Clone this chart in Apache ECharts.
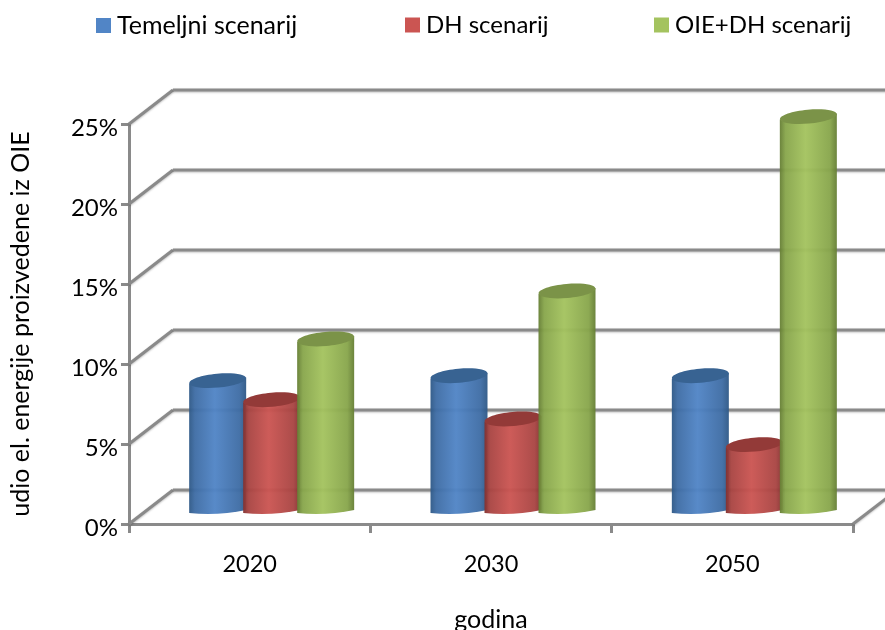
<!DOCTYPE html>
<html><head><meta charset="utf-8">
<style>html,body{margin:0;padding:0;background:#fff}#c{width:885px;height:630px}</style>
<script src="https://cdn.jsdelivr.net/npm/echarts@6/dist/echarts.min.js"></script>
</head><body><div id="c"></div>
<script>
var categories = ['2020', '2030', '2050'];
var temeljni = [7.9, 8.2, 8.2];
var dh = [6.7, 5.5, 3.9];
var oieDh = [10.5, 13.5, 24.4];
var yTicks = [0, 5, 10, 15, 20, 25];
var names = ['Temeljni scenarij', 'DH scenarij', 'OIE+DH scenarij'];

var DX = 44, DY = -34, GRAY = '#8a8a8a', FONT = 'Lato';
var chart = echarts.init(document.getElementById('c'));

function wall(params, api) {
  var cs = params.coordSys, y = api.coord([0, api.value(0)])[1];
  var x0 = cs.x, x1 = cs.x + cs.width;
  var st = {stroke: GRAY, lineWidth: 3, shadowColor: 'rgba(0,0,0,0.25)', shadowBlur: 2, shadowOffsetY: 1};
  var kids = [
    {type: 'line', shape: {x1: x0, y1: y, x2: x0 + DX, y2: y + DY}, style: st},
    {type: 'line', shape: {x1: x0 + DX, y1: y + DY, x2: x1 + DX, y2: y + DY}, style: st}
  ];
  if (api.value(0) === 0) kids.push({type: 'line', shape: {x1: x1, y1: y, x2: x1 + DX, y2: y + DY}, style: st});
  return {type: 'group', children: kids};
}

function cylinder(offset, c) {
  return function (params, api) {
    var pBase = api.coord([api.value(0), 0]), pTop = api.coord([api.value(0), api.value(1)]);
    var cx = pBase[0] + DX / 2 + offset, rx = 28.5, tilt = 3;
    var yb = pBase[1] + DY / 2, yt = pTop[1] + DY / 2;
    var d = 'M' + (cx - rx) + ' ' + (yt + tilt) +
      ' L' + (cx - rx) + ' ' + (yb + 6) +
      ' Q' + cx + ' ' + (yb + 9) + ' ' + (cx + rx) + ' ' + (yb + 3) +
      ' L' + (cx + rx) + ' ' + (yt - tilt) + ' Z';
    return {type: 'group', children: [
      {type: 'path', shape: {pathData: d},
        style: {opacity: 0.96, fill: new echarts.graphic.LinearGradient(0, 0, 1, 0, [
          {offset: 0, color: c[0]}, {offset: 0.1, color: c[1]}, {offset: 0.45, color: c[2]},
          {offset: 0.88, color: c[1]}, {offset: 1, color: c[0]}])}},
      {type: 'ellipse', x: cx, y: yt, rotation: 0.09, shape: {cx: 0, cy: 0, rx: rx, ry: 7}, style: {fill: c[3]}}
    ]};
  };
}

function seriesOf(name, values, offset, colors) {
  return {
    name: name, type: 'custom', clip: false, z: 5,
    itemStyle: {color: colors[2]},
    renderItem: cylinder(offset, colors),
    encode: {x: 0, y: 1},
    data: categories.map(function (c, i) { return [i, values[i]]; })
  };
}

function legendOf(name, left, size) {
  return {
    left: left, top: 8, itemWidth: 15, itemHeight: 15, icon: 'rect',
    data: [name], textStyle: {fontFamily: FONT, fontSize: size, color: '#000', padding: [0, 0, 0, 1]}
  };
}

chart.setOption({
  animation: false,
  backgroundColor: '#fff',
  textStyle: {fontFamily: FONT},
  legend: [legendOf(names[0], 91, 25), legendOf(names[1], 400, 24), legendOf(names[2], 649, 24)],
  grid: {left: 129, right: 32, top: 124, bottom: 106, outerBoundsMode: 'none'},
  xAxis: {
    type: 'category', data: categories, name: 'godina', nameLocation: 'middle', nameGap: 83,
    nameTextStyle: {fontFamily: FONT, fontSize: 25, color: '#000'},
    axisLine: {lineStyle: {color: GRAY, width: 3}},
    axisTick: {show: true, length: 9, lineStyle: {color: GRAY, width: 3}},
    axisLabel: {fontFamily: FONT, fontSize: 23.5, color: '#000', margin: 28}
  },
  yAxis: {
    type: 'value', min: 0, max: 25, interval: 5, name: 'udio el. energije proizvedene iz OIE',
    nameLocation: 'middle', nameGap: 96, nameRotate: 90,
    nameTextStyle: {fontFamily: FONT, fontSize: 25, color: '#000'},
    axisLine: {show: true, lineStyle: {color: GRAY, width: 3}},
    axisTick: {show: true, length: 8, lineStyle: {color: GRAY, width: 3}},
    axisLabel: {
      margin: 11, formatter: '{a|{value}%}',
      rich: {a: {fontFamily: FONT, fontSize: 24, color: '#000', padding: [8, 0, 0, 0]}}
    },
    splitLine: {show: false}
  },
  series: [
    {type: 'custom', silent: true, clip: false, z: 1, renderItem: wall, encode: {y: 0},
      data: yTicks.map(function (v) { return [v]; })},
    seriesOf(names[0], temeljni, -54, ['#2f5987', '#3f6da5', '#5185c6', '#386392']),
    seriesOf(names[1], dh, 0, ['#833130', '#a94543', '#cb5552', '#933a38']),
    seriesOf(names[2], oieDh, 54, ['#667f35', '#88a64c', '#a4c35f', '#7b9348'])
  ]
});
</script></body></html>
